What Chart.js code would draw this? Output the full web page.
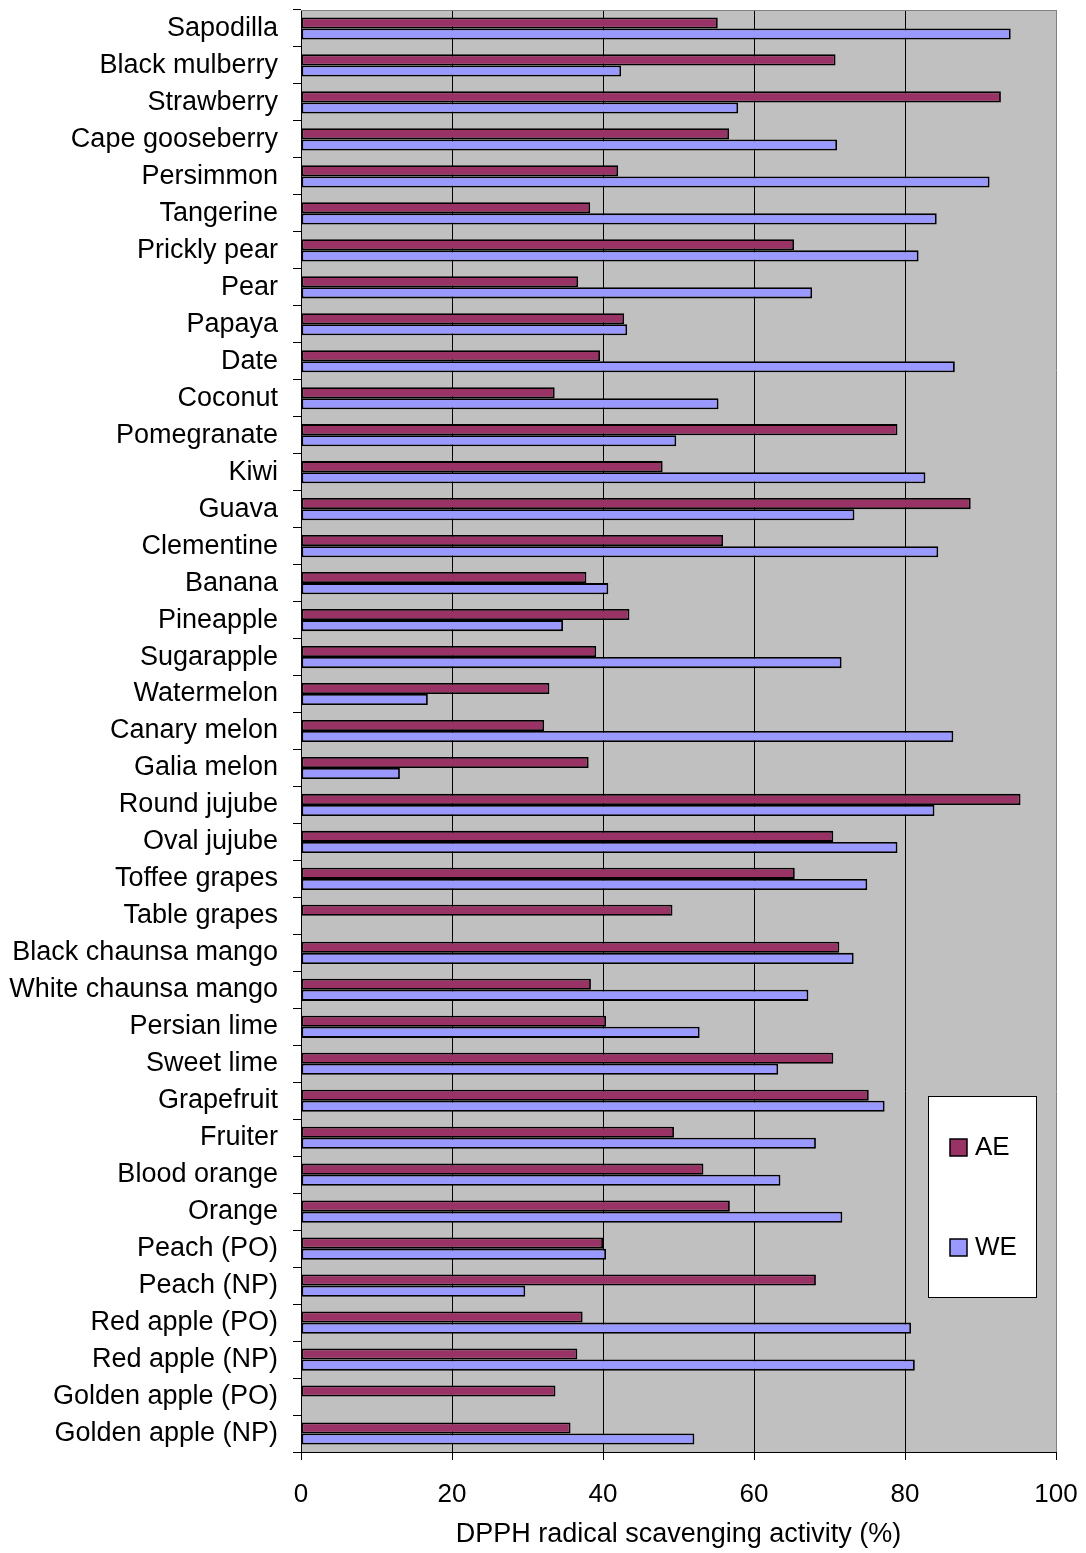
<!DOCTYPE html>
<html lang="en">
<head>
  <meta charset="UTF-8">
  <title>DPPH radical scavenging activity</title>
  <script src="https://cdn.jsdelivr.net/npm/chart.js"></script>
  <style>
    body { margin: 0; background: #fff; }
    #wrap { width: 1086px; height: 1553px; position: relative; }
  </style>
</head>
<body>
  <div id="wrap">
    <canvas id="myChart" width="1086" height="1553"></canvas>
  </div>

  <script>
    const fruits = [
      'Sapodilla', 'Black mulberry', 'Strawberry', 'Cape gooseberry', 'Persimmon',
      'Tangerine', 'Prickly pear', 'Pear', 'Papaya', 'Date', 'Coconut', 'Pomegranate',
      'Kiwi', 'Guava', 'Clementine', 'Banana', 'Pineapple', 'Sugarapple', 'Watermelon',
      'Canary melon', 'Galia melon', 'Round jujube', 'Oval jujube', 'Toffee grapes',
      'Table grapes', 'Black chaunsa mango', 'White chaunsa mango', 'Persian lime',
      'Sweet lime', 'Grapefruit', 'Fruiter', 'Blood orange', 'Orange', 'Peach (PO)',
      'Peach (NP)', 'Red apple (PO)', 'Red apple (NP)', 'Golden apple (PO)', 'Golden apple (NP)'
    ];

    // AE = acetone extract, WE = water extract
    const valoriAE = [
      55.2, 70.8, 92.7, 56.7, 42.0, 38.3, 65.3, 36.7, 42.8, 39.6, 33.6, 79.0,
      47.9, 88.7, 55.9, 37.8, 43.5, 39.1, 32.9, 32.2, 38.1, 95.3, 70.5, 65.4,
      49.2, 71.3, 38.4, 40.4, 70.5, 75.2, 49.4, 53.3, 56.8, 40.0, 68.2, 37.3,
      36.6, 33.7, 35.7
    ];
    const valoriWE = [
      94.0, 42.4, 57.9, 71.0, 91.2, 84.2, 81.8, 67.7, 43.2, 86.6, 55.3, 49.7,
      82.7, 73.3, 84.4, 40.7, 34.7, 71.6, 16.8, 86.4, 13.1, 83.9, 79.0, 75.0,
      null, 73.2, 67.2, 52.8, 63.2, 77.3, 68.2, 63.5, 71.7, 40.4, 29.7, 80.8,
      81.3, null, 52.1
    ];

    const xTicks = [0, 20, 40, 60, 80, 100];
    const titoloAsse = 'DPPH radical scavenging activity (%)';

    const FONT = "'Liberation Sans', Arial, sans-serif";

    // sfondo grigio dell'area del grafico + bordo superiore + legenda a riquadro
    const sfondoPlugin = {
      id: 'sfondo',
      beforeDraw(chart) {
        const a = chart.chartArea;
        const c = chart.ctx;
        c.save();
        c.fillStyle = '#c0c0c0';
        c.fillRect(a.left, a.top, a.right - a.left, a.bottom - a.top);
        c.restore();
      },
      afterDraw(chart) {
        const a = chart.chartArea;
        const c = chart.ctx;
        c.save();
        c.strokeStyle = '#808080';
        c.lineWidth = 1;
        c.beginPath();
        c.moveTo(a.left, a.top + 0.5);
        c.lineTo(a.right + 0.5, a.top + 0.5);
        c.stroke();

        // legenda
        const bx = a.right - 128, by = a.bottom - 356, bw = 108, bh = 201;
        c.fillStyle = '#fff';
        c.fillRect(bx, by, bw, bh);
        c.strokeStyle = '#000';
        c.strokeRect(bx + 0.5, by + 0.5, bw, bh);
        c.font = '26px ' + FONT;
        c.textBaseline = 'middle';
        c.textAlign = 'left';
        chart.data.datasets.forEach((ds, i) => {
          const cy = by + 51 + i * 100;
          c.fillStyle = ds.backgroundColor;
          c.fillRect(bx + 22, cy - 8, 17, 17);
          c.lineWidth = 1.5;
          c.strokeStyle = '#000';
          c.strokeRect(bx + 22, cy - 8, 17, 17);
          c.fillStyle = '#000';
          c.fillText(ds.label, bx + 47, cy + 1);
        });
        c.restore();
      }
    };

    const ctx = document.getElementById('myChart').getContext('2d');
    const chart = new Chart(ctx, {
      type: 'bar',
      data: {
        labels: fruits,
        datasets: [
          {
            label: 'AE',
            data: valoriAE,
            backgroundColor: '#993366',
            borderColor: '#000',
            borderWidth: 1.8,
            borderSkipped: false
          },
          {
            label: 'WE',
            data: valoriWE,
            backgroundColor: '#9999ff',
            borderColor: '#000',
            borderWidth: 1.8,
            borderSkipped: false
          }
        ]
      },
      options: {
        indexAxis: 'y',
        responsive: false,
        animation: false,
        layout: { padding: { top: 10, right: 30, left: 0, bottom: 0 } },
        datasets: {
          bar: { categoryPercentage: 0.6, barPercentage: 1.0 }
        },
        plugins: {
          legend: { display: false },
          tooltip: { enabled: false }
        },
        scales: {
          x: {
            min: 0,
            max: 100,
            afterBuildTicks: s => { s.ticks = xTicks.map(v => ({ value: v })); },
            grid: {
              color: c => (c.tick && c.tick.value === 100 ? '#808080' : '#000'),
              lineWidth: 1,
              tickLength: 8,
              tickColor: '#000'
            },
            border: { color: '#000', width: 1 },
            ticks: {
              color: '#000',
              font: { family: FONT, size: 26 },
              padding: 19
            },
            title: {
              display: true,
              text: titoloAsse,
              color: '#000',
              font: { family: FONT, size: 27, lineHeight: 1.2 },
              padding: { top: 2, bottom: 2 }
            },
            afterFit: s => {
              s.height = 101;
              s.paddingLeft = 0;
              s.paddingRight = 0;
            }
          },
          y: {
            grid: {
              drawOnChartArea: false,
              drawTicks: true,
              tickLength: 8,
              color: '#000',
              offset: true
            },
            border: { color: '#000', width: 1 },
            ticks: {
              color: '#000',
              autoSkip: false,
              font: { family: FONT, size: 27 },
              padding: 15
            },
            afterFit: s => {
              s.width = 301;
              s.paddingTop = 0;
              s.paddingBottom = 0;
            }
          }
        }
      },
      plugins: [sfondoPlugin]
    });
  </script>
</body>
</html>
